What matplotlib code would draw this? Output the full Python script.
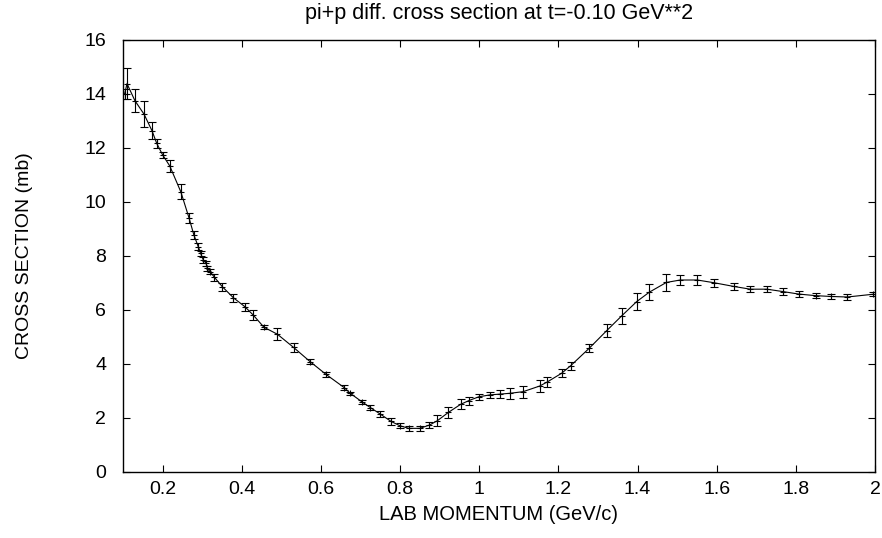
import matplotlib
matplotlib.use("Agg")
import matplotlib.pyplot as plt

# momentum (GeV/c), cross section (mb), error (mb)
p_lab = [0.104, 0.110, 0.130, 0.153, 0.173, 0.185, 0.200, 0.218, 0.246, 0.267,
         0.279, 0.290, 0.296, 0.303, 0.310, 0.313, 0.320, 0.331, 0.351, 0.379,
         0.408, 0.429, 0.456, 0.490, 0.531, 0.573, 0.613, 0.659, 0.674, 0.705,
         0.725, 0.750, 0.777, 0.799, 0.822, 0.850, 0.874, 0.894, 0.922, 0.953,
         0.974, 0.999, 1.027, 1.053, 1.078, 1.111, 1.153, 1.172, 1.208, 1.231,
         1.278, 1.322, 1.360, 1.398, 1.430, 1.473, 1.508, 1.551, 1.593, 1.644,
         1.685, 1.727, 1.768, 1.807, 1.850, 1.889, 1.930, 1.994]
sigma = [14.00, 14.38, 13.75, 13.25, 12.64, 12.17, 11.74, 11.33, 10.37, 9.39,
         8.77, 8.34, 8.09, 7.84, 7.72, 7.53, 7.41, 7.20, 6.85, 6.44,
         6.11, 5.80, 5.35, 5.09, 4.60, 4.07, 3.60, 3.11, 2.90, 2.57,
         2.37, 2.13, 1.86, 1.70, 1.60, 1.60, 1.72, 1.88, 2.19, 2.49,
         2.63, 2.77, 2.84, 2.87, 2.90, 2.96, 3.17, 3.32, 3.64, 3.92,
         4.57, 5.22, 5.77, 6.30, 6.65, 7.01, 7.10, 7.10, 7.00, 6.86,
         6.76, 6.76, 6.67, 6.58, 6.52, 6.49, 6.47, 6.57]
err = [0.20, 0.57, 0.43, 0.49, 0.33, 0.16, 0.12, 0.23, 0.28, 0.19,
       0.15, 0.12, 0.10, 0.10, 0.10, 0.10, 0.10, 0.12, 0.15, 0.15,
       0.15, 0.18, 0.08, 0.23, 0.18, 0.10, 0.08, 0.08, 0.06, 0.08,
       0.10, 0.10, 0.12, 0.10, 0.10, 0.10, 0.12, 0.20, 0.20, 0.18,
       0.15, 0.12, 0.12, 0.15, 0.20, 0.22, 0.22, 0.20, 0.15, 0.15,
       0.15, 0.25, 0.30, 0.30, 0.30, 0.30, 0.18, 0.18, 0.15, 0.12,
       0.10, 0.12, 0.12, 0.10, 0.08, 0.08, 0.10, 0.08]

plt.rcParams["font.family"] = ["Liberation Sans", "DejaVu Sans"]

fig = plt.figure(figsize=(8.82, 5.38), dpi=100)
ax = fig.add_axes([0.1395, 0.1236, 0.8525, 0.8021])

ax.plot(p_lab, sigma, color="black", lw=0.8)
ax.errorbar(p_lab, sigma, yerr=err, fmt="+", color="black", ms=4,
            mew=0.8, elinewidth=0.8, capsize=3, capthick=0.8)

ax.set_xlim(0.1, 2.0)
ax.set_ylim(0, 16)
ax.set_xticks([0.2, 0.4, 0.6, 0.8, 1.0, 1.2, 1.4, 1.6, 1.8, 2.0])
ax.set_xticklabels(["0.2", "0.4", "0.6", "0.8", "1", "1.2", "1.4", "1.6", "1.8", "2"])
ax.set_yticks(range(0, 17, 2))
ax.tick_params(direction="in", top=True, right=True, length=5, width=0.8,
               labelsize=14)
ax.tick_params(axis="x", pad=7)
ax.tick_params(axis="y", pad=12)
for s in ax.spines.values():
    s.set_linewidth(1.0)

ax.set_xlabel("LAB MOMENTUM (GeV/c)", fontsize=14.5, labelpad=5)
ax.set_ylabel("CROSS SECTION (mb)", fontsize=14, labelpad=37)
ax.set_title("pi+p diff. cross section at t=-0.10 GeV**2", fontsize=15.5, pad=15)

fig.savefig("out.png", dpi=100)
